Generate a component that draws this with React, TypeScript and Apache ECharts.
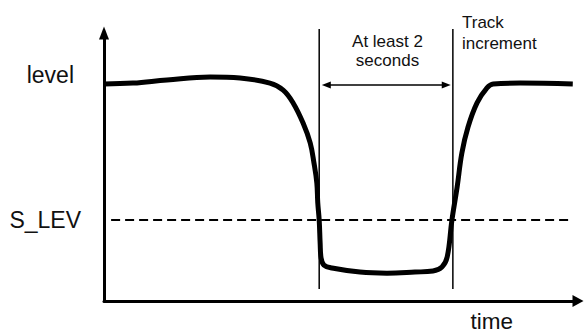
import React, { useEffect, useRef } from "react";
import * as echarts from "echarts";

// time (0-100) and signal level (0-100)
const TIME = [0, 6.1, 13.3, 22.4, 28.7, 35.0, 37.8, 39.9, 42.0, 43.5, 44.3, 44.9, 45.1, 45.4, 45.6, 45.8, 46.4, 48.1, 54.0, 59.7, 65.6, 69.4, 71.3, 72.4, 73.4, 74.5, 75.5, 76.8, 78.7, 80.8, 82.1, 87.8, 98.9];
const LEVEL = [81.0, 81.3, 82.5, 83.6, 83.2, 81.3, 78.7, 73.9, 66.4, 59.0, 51.5, 44.0, 36.6, 30.2, 21.6, 16.0, 13.4, 12.3, 10.8, 10.4, 10.8, 11.2, 12.7, 16.4, 30.2, 42.5, 55.2, 64.9, 73.9, 79.5, 81.0, 81.3, 81.0];

const S_LEV = 30.2;
const LEVEL_VALUE = 81;
const S_LEV_SPAN = [1.5, 98.9];
const MARK_TIMES = [45.4, 73.6];
const MARK_SPAN = [4.5, 101.5];
const ARROW_Y = 80.6;
const ARROW_SPAN = [46.9, 72.2];

const Y_LABELS = ["level", "S_LEV"];
const ANNOT_WAIT = "At least 2\nseconds";
const ANNOT_TRACK = "Track\nincrement";
const X_NAME = "time";

const FONT = '"Liberation Sans", Arial, Helvetica, sans-serif';
const INK = "#111";

export default function App() {
  const ref = useRef<HTMLDivElement>(null);
  useEffect(() => {
    document.body.style.margin = "0";
    const chart = echarts.init(ref.current!, null, { renderer: "svg" });
    const axisLineBase = { color: "#000", width: 3 };
    chart.setOption({
      animation: false,
      backgroundColor: "#fff",
      grid: { left: 104, right: 6, top: 33, bottom: 32, containLabel: false, outerBoundsMode: "none" },
      xAxis: {
        type: "value",
        min: 0,
        max: 100,
        splitLine: { show: false },
        axisTick: { show: false },
        axisLabel: { show: false },
        axisLine: {
          show: true,
          onZero: false,
          symbol: ["none", "triangle"],
          symbolSize: [12, 11],
          lineStyle: axisLineBase,
        },
      },
      yAxis: {
        type: "value",
        min: 0,
        max: 100,
        splitLine: { show: false },
        axisTick: { show: false },
        axisLine: {
          show: true,
          onZero: false,
          symbol: ["none", "triangle"],
          symbolSize: [10, 13],
          lineStyle: axisLineBase,
        },
        axisLabel: {
          show: true,
          customValues: [LEVEL_VALUE, S_LEV],
          margin: 23,
          color: INK,
          fontSize: 23,
          fontFamily: FONT,
          formatter: (v: number) => (v === S_LEV ? `{b|${Y_LABELS[1]}}` : `{a|${Y_LABELS[0]}}`),
          rich: {
            a: { fontSize: 23, fontFamily: FONT, color: INK, padding: [0, 7, 18, 0] },
            b: { fontSize: 23, fontFamily: FONT, color: INK },
          },
        },
      },
      series: [
        {
          name: "S_LEV",
          type: "line",
          data: S_LEV_SPAN.map((t) => [t, S_LEV]),
          showSymbol: false,
          symbol: "none",
          lineStyle: { color: "#000", width: 2, type: [9, 5] },
          z: 2,
        },
        {
          name: "mark1",
          type: "line",
          clip: false,
          data: MARK_SPAN.map((v) => [MARK_TIMES[0], v]),
          symbol: "none",
          lineStyle: { color: "#000", width: 1.5 },
          z: 2,
          markLine: {
            silent: true,
            symbol: ["triangle", "triangle"],
            symbolSize: [7, 9],
            label: { show: false },
            lineStyle: { color: "#000", width: 1.5, type: "solid" },
            data: [[{ coord: [ARROW_SPAN[0], ARROW_Y] }, { coord: [ARROW_SPAN[1], ARROW_Y] }]],
          },
        },
        {
          name: "mark2",
          type: "line",
          clip: false,
          data: MARK_SPAN.map((v) => [MARK_TIMES[1], v]),
          symbol: "none",
          lineStyle: { color: "#000", width: 1.5 },
          z: 2,
        },
        {
          name: "level",
          type: "line",
          data: TIME.map((t, i) => [t, LEVEL[i]]),
          symbol: "none",
          smooth: 0.4,
          lineStyle: { color: "#000", width: 5 },
          z: 3,
        },
      ],
      graphic: [
        {
          type: "text",
          x: 387.5,
          y: 31.5,
          style: { text: ANNOT_WAIT, fill: INK, fontSize: 17, fontFamily: FONT, align: "center", verticalAlign: "top", lineHeight: 19.5 },
        },
        {
          type: "text",
          x: 462,
          y: 12.5,
          style: { text: ANNOT_TRACK, fill: INK, fontSize: 17, fontFamily: FONT, align: "left", verticalAlign: "top", lineHeight: 20.5 },
        },
        {
          type: "text",
          x: 491.7,
          y: 321.5,
          style: { text: X_NAME, fill: INK, fontSize: 22.5, fontFamily: FONT, align: "center", verticalAlign: "middle" },
        },
      ],
    });
    return () => chart.dispose();
  }, []);
  return <div ref={ref} style={{ width: 584, height: 333 }} />;
}
